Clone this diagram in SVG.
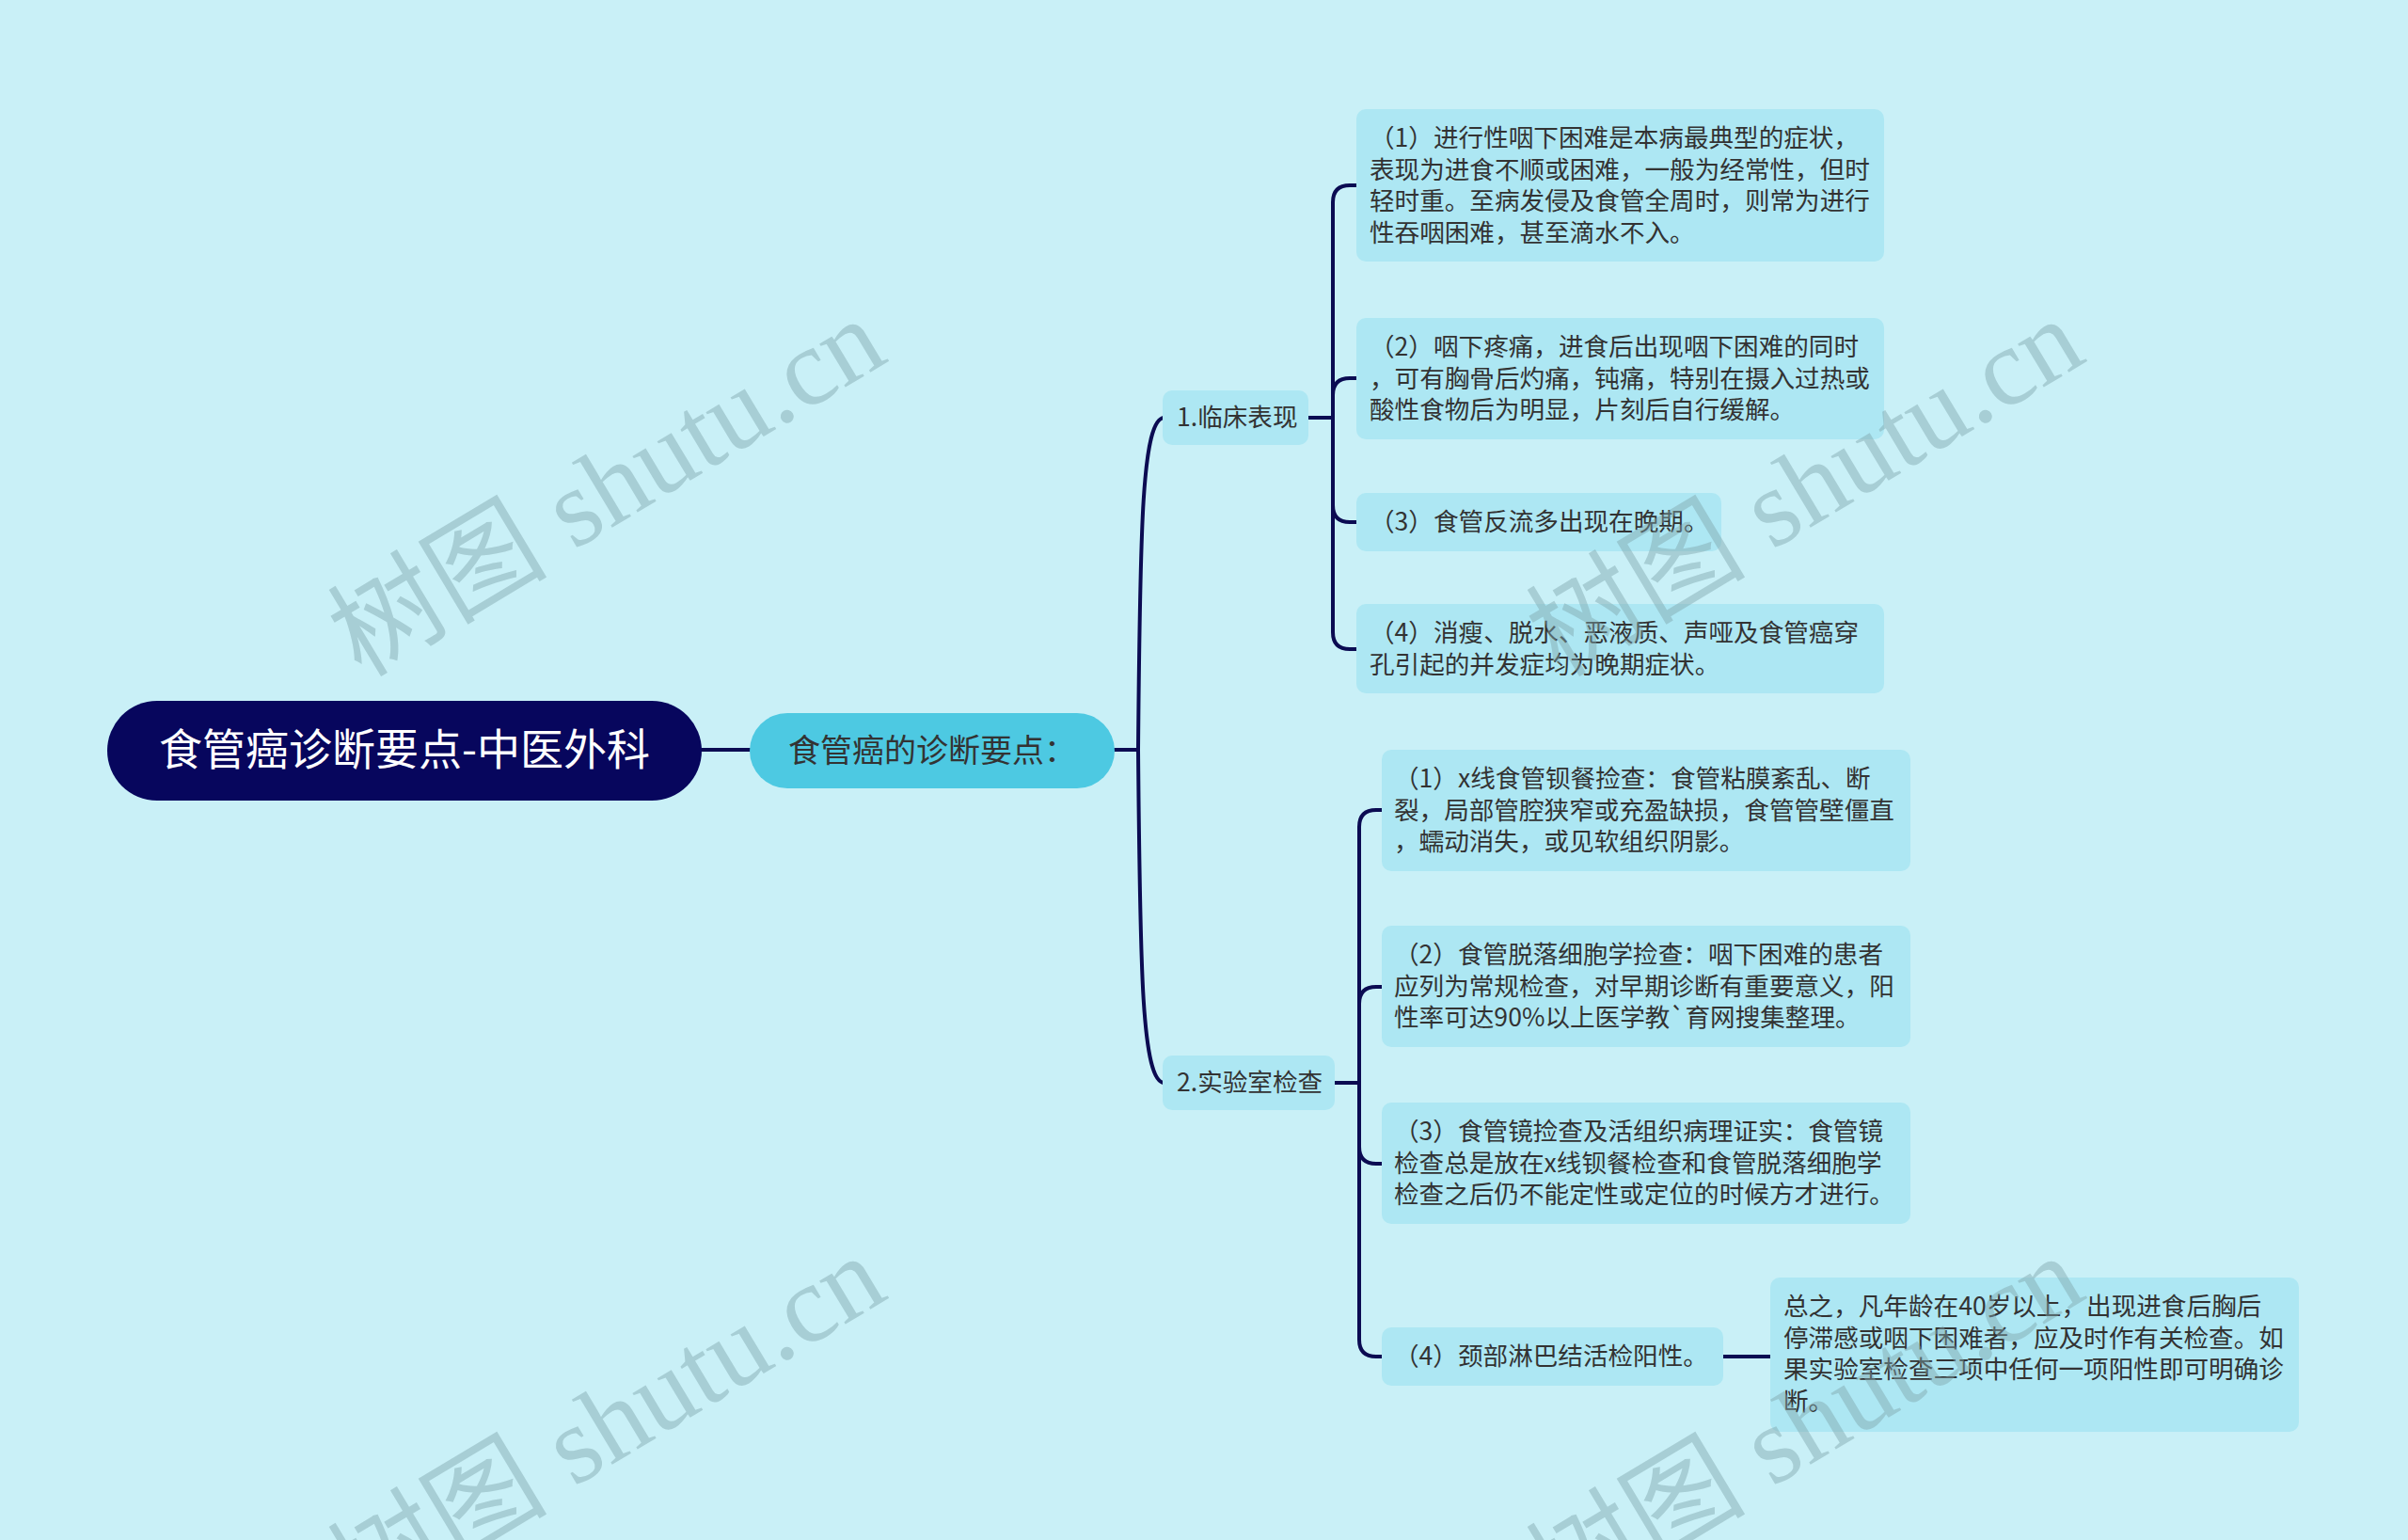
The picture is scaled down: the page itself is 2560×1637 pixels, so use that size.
<svg xmlns="http://www.w3.org/2000/svg" width="2560" height="1637" viewBox="0 0 2560 1637">
<style>
.bg{fill:#c9f0f7}
.box{fill:#ade7f3}
.t{font-family:"Noto Sans CJK SC","Noto Sans",sans-serif;font-size:26.6px;fill:#333333}
.c{fill:none;stroke:#0b0b52;stroke-width:4;stroke-linecap:round;stroke-linejoin:round}
.wm{font-family:"Liberation Serif","Noto Sans CJK SC",serif;font-size:117px;fill:#7fa3ab;fill-opacity:0.45}
</style>
<rect class="bg" x="0" y="0" width="2560" height="1637"/>

<g id="connectors">
  <path class="c" d="M746 797 H797"/>
  <path class="c" d="M1185 797 H1210"/>
  <path class="c" d="M1210 797 C1212 560 1214 444 1238 444"/>
  <path class="c" d="M1210 797 C1212 1034 1214 1151 1238 1151"/>
  <path class="c" d="M1391 444 H1417"/>
  <path class="c" d="M1417 444 V215 Q1417 197 1435 197 H1442"/>
  <path class="c" d="M1417 444 V420 Q1417 402 1435 402 H1442"/>
  <path class="c" d="M1417 444 V537 Q1417 555 1435 555 H1442"/>
  <path class="c" d="M1417 444 V672 Q1417 690 1435 690 H1442"/>
  <path class="c" d="M1419 1151 H1445"/>
  <path class="c" d="M1445 1151 V879 Q1445 861 1463 861 H1469"/>
  <path class="c" d="M1445 1151 V1067 Q1445 1049 1463 1049 H1469"/>
  <path class="c" d="M1445 1151 V1219 Q1445 1237 1463 1237 H1469"/>
  <path class="c" d="M1445 1151 V1424 Q1445 1442 1463 1442 H1469"/>
  <path class="c" d="M1832 1442 H1882"/>
</g>

<g id="root">
  <rect x="114" y="745" width="632" height="106" rx="53" fill="#07065d"/>
  <text x="430" y="813" text-anchor="middle" style="font-family:'Noto Sans CJK SC','Noto Sans',sans-serif;font-size:46px;fill:#ffffff">食管癌诊断要点-中医外科</text>
</g>

<g id="main">
  <rect x="797" y="758" width="388" height="80" rx="40" fill="#4dc9e2"/>
  <text x="838" y="810" style="font-family:'Noto Sans CJK SC','Noto Sans',sans-serif;font-size:34px;fill:#333333">食管癌的诊断要点：</text>
</g>

<g id="n1">
  <rect class="box" x="1236" y="415" width="155" height="58" rx="10"/>
  <text class="t" x="1251" y="453">1.临床表现</text>
</g>

<g id="n2">
  <rect class="box" x="1236" y="1122" width="183" height="58" rx="10"/>
  <text class="t" x="1251" y="1160">2.实验室检查</text>
</g>

<g id="c1">
  <rect class="box" x="1442" y="116" width="561" height="162" rx="10"/>
  <text class="t" x="1456" y="156">（1）进行性咽下困难是本病最典型的症状，</text>
  <text class="t" x="1456" y="190">表现为进食不顺或困难，一般为经常性，但时</text>
  <text class="t" x="1456" y="223">轻时重。至病发侵及食管全周时，则常为进行</text>
  <text class="t" x="1456" y="257">性吞咽困难，甚至滴水不入。</text>
</g>

<g id="c2">
  <rect class="box" x="1442" y="338" width="561" height="129" rx="10"/>
  <text class="t" x="1456" y="378">（2）咽下疼痛，进食后出现咽下困难的同时</text>
  <text class="t" x="1456" y="412">，可有胸骨后灼痛，钝痛，特别在摄入过热或</text>
  <text class="t" x="1456" y="445">酸性食物后为明显，片刻后自行缓解。</text>
</g>

<g id="c3">
  <rect class="box" x="1442" y="524" width="388" height="62" rx="10"/>
  <text class="t" x="1456" y="564">（3）食管反流多出现在晚期。</text>
</g>

<g id="c4">
  <rect class="box" x="1442" y="642" width="561" height="95" rx="10"/>
  <text class="t" x="1456" y="682">（4）消瘦、脱水、恶液质、声哑及食管癌穿</text>
  <text class="t" x="1456" y="716">孔引起的并发症均为晚期症状。</text>
</g>

<g id="d1">
  <rect class="box" x="1469" y="797" width="562" height="129" rx="10"/>
  <text class="t" x="1482" y="837">（1）x线食管钡餐捡查：食管粘膜紊乱、断</text>
  <text class="t" x="1482" y="871">裂，局部管腔狭窄或充盈缺损，食管管壁僵直</text>
  <text class="t" x="1482" y="904">，蠕动消失，或见软组织阴影。</text>
</g>

<g id="d2">
  <rect class="box" x="1469" y="984" width="562" height="129" rx="10"/>
  <text class="t" x="1482" y="1024">（2）食管脱落细胞学捡查：咽下困难的患者</text>
  <text class="t" x="1482" y="1058">应列为常规检查，对早期诊断有重要意义，阳</text>
  <text class="t" x="1482" y="1091">性率可达90%以上医学教`育网搜集整理。</text>
</g>

<g id="d3">
  <rect class="box" x="1469" y="1172" width="562" height="129" rx="10"/>
  <text class="t" x="1482" y="1212">（3）食管镜捡查及活组织病理证实：食管镜</text>
  <text class="t" x="1482" y="1246">检查总是放在x线钡餐检查和食管脱落细胞学</text>
  <text class="t" x="1482" y="1279">检查之后仍不能定性或定位的时候方才进行。</text>
</g>

<g id="d4">
  <rect class="box" x="1469" y="1411" width="363" height="62" rx="10"/>
  <text class="t" x="1482" y="1451">（4）颈部淋巴结活检阳性。</text>
</g>

<g id="summary">
  <rect class="box" x="1882" y="1358" width="562" height="164" rx="10"/>
  <text class="t" x="1896" y="1398">总之，凡年龄在40岁以上，出现进食后胸后</text>
  <text class="t" x="1896" y="1432">停滞感或咽下困难者，应及时作有关检查。如</text>
  <text class="t" x="1896" y="1465">果实验室检查三项中任何一项阳性即可明确诊</text>
  <text class="t" x="1896" y="1499">断。</text>
</g>

<g id="watermarks">
  <text class="wm" text-anchor="middle" dominant-baseline="central" transform="translate(645 518) rotate(-31)">树图 shutu.cn</text>
  <text class="wm" text-anchor="middle" dominant-baseline="central" transform="translate(1919 518) rotate(-31)">树图 shutu.cn</text>
  <text class="wm" text-anchor="middle" dominant-baseline="central" transform="translate(645 1514) rotate(-31)">树图 shutu.cn</text>
  <text class="wm" text-anchor="middle" dominant-baseline="central" transform="translate(1919 1514) rotate(-31)">树图 shutu.cn</text>
</g>
</svg>
